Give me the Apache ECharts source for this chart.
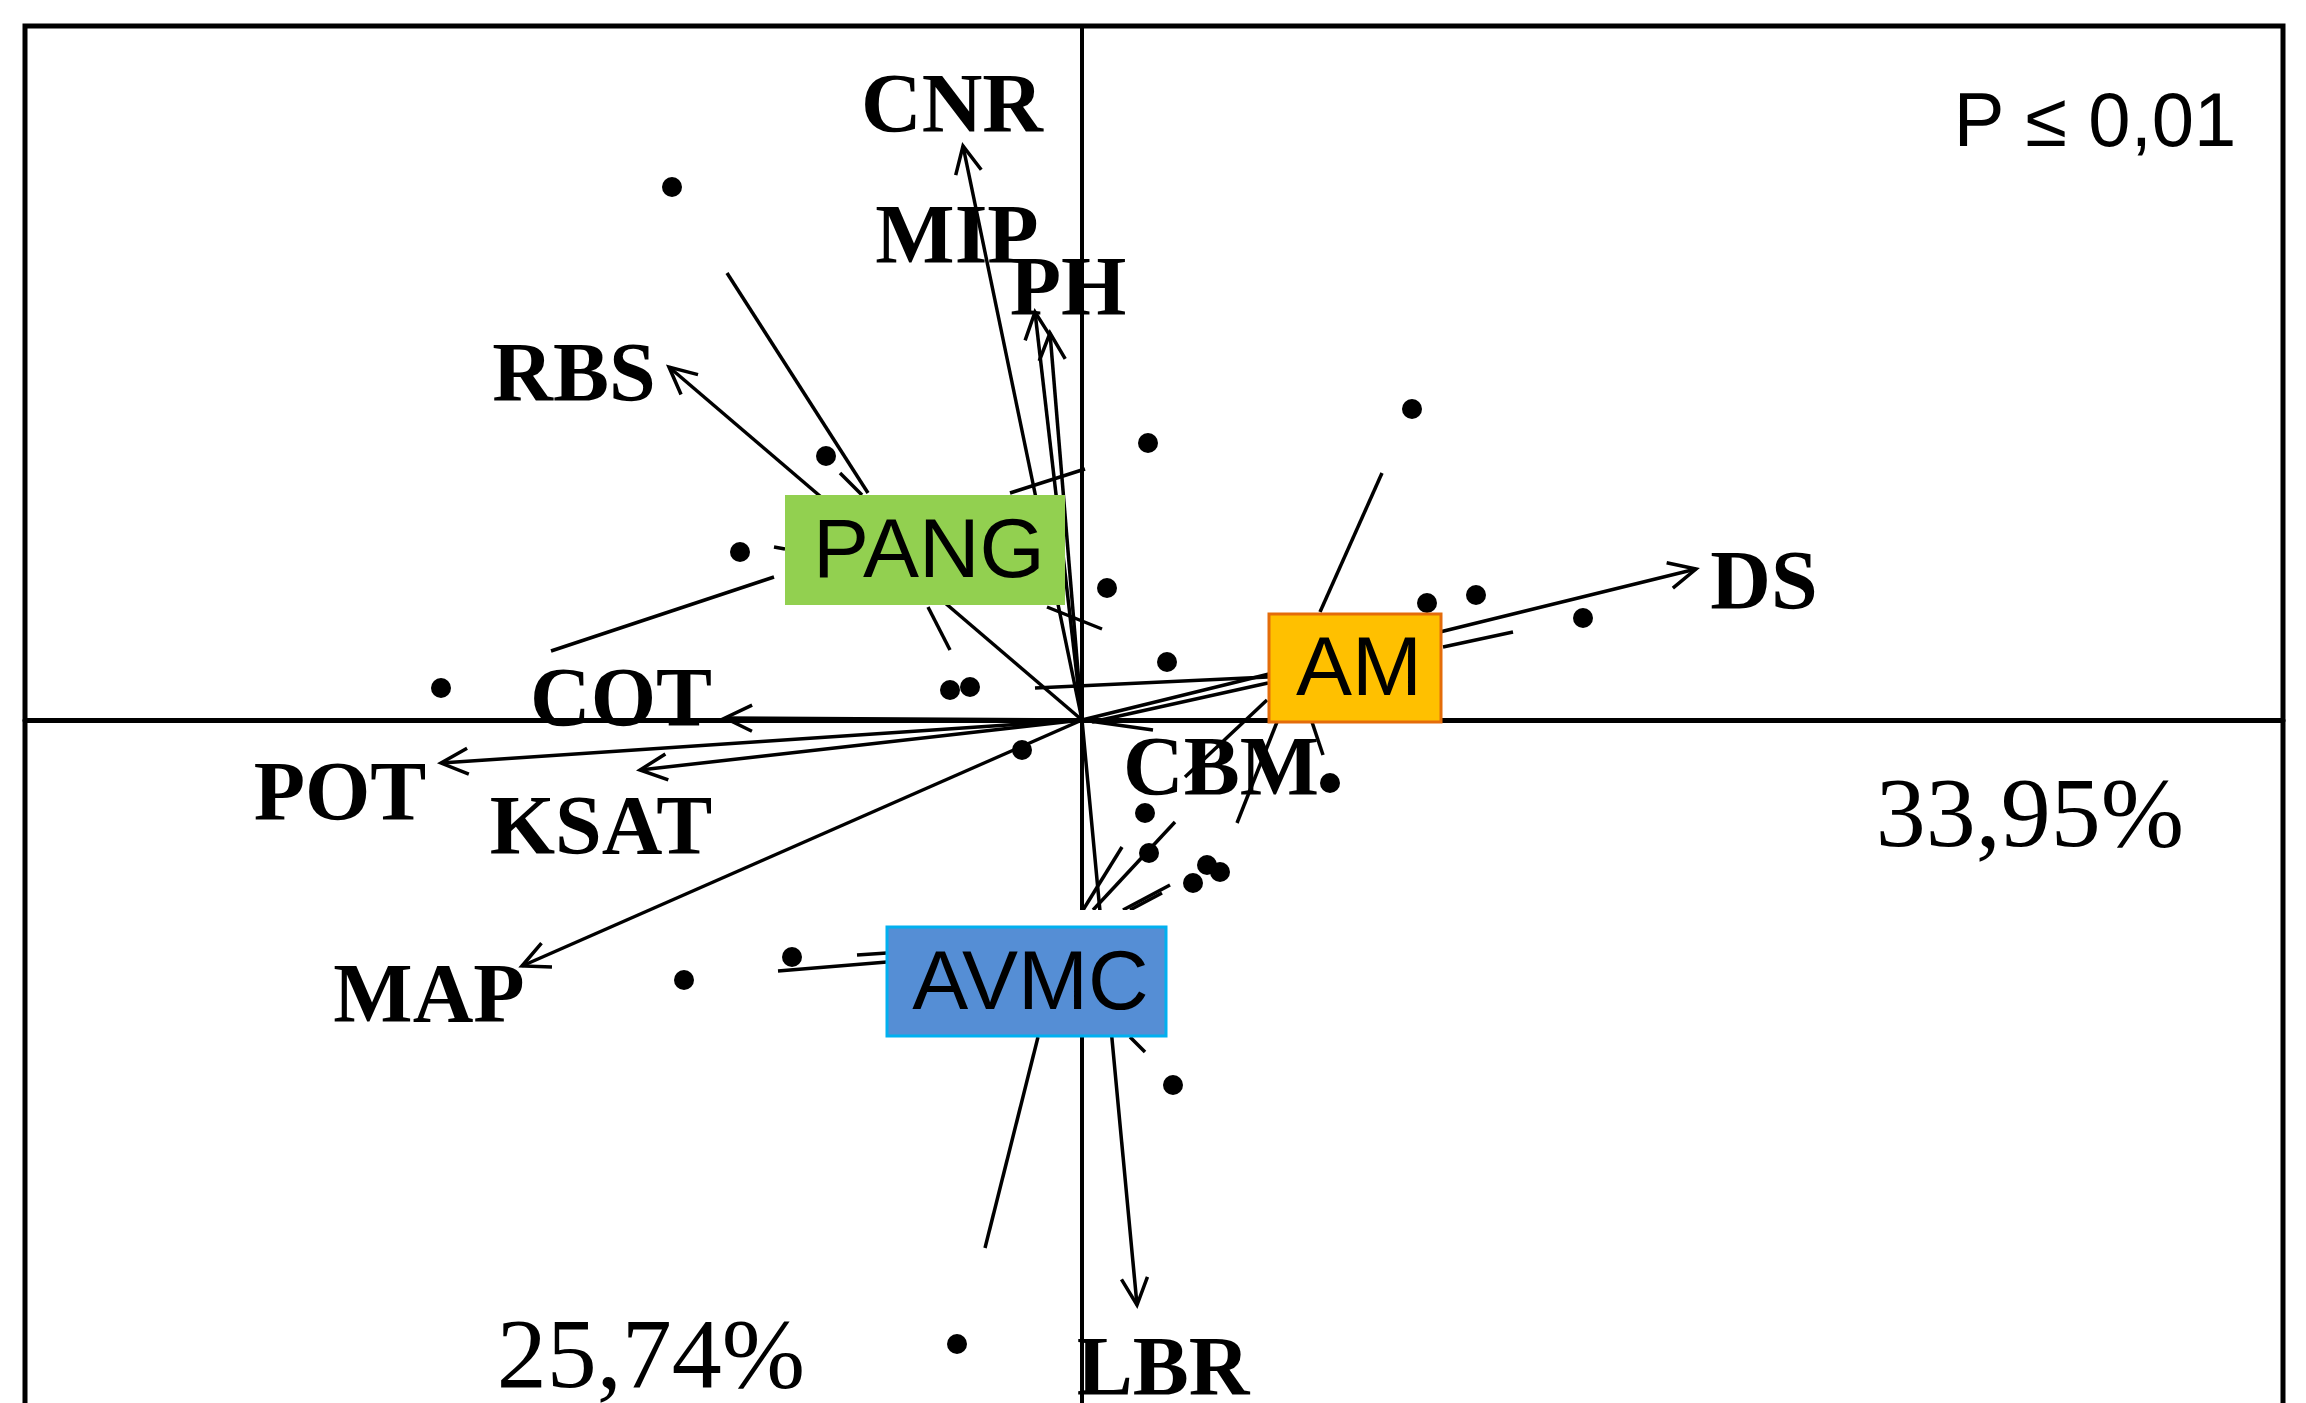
<!DOCTYPE html>
<html>
<head>
<meta charset="utf-8">
<script src="https://cdn.jsdelivr.net/npm/echarts@6/dist/echarts.min.js"></script>
<style>
  html, body { margin: 0; padding: 0; background: #fff; }
  #main { width: 2306px; height: 1403px; }
</style>
</head>
<body>
<div id="main"></div>
<script>
// inertia of the two axes and test result
const axisInertia = ['33,95%', '25,74%'];
const pValue = 'P \u2264 0,01';

// variables (arrows from origin)
const varNames = ['CNR', 'MIP', 'PH', 'RBS', 'DS', 'COT', 'POT', 'KSAT', 'MAP', 'CBM', 'LBR'];
const varX = [-1.19, -0.47, -0.32, -4.13, 6.14, -3.57, -6.41, -4.42, -5.60, 0.71, 0.55];
const varY = [5.74, 4.08, 3.87, 3.53, 1.51, 0.02, -0.43, -0.50, -2.46, -0.10, -5.85];
const varHead = [true, true, true, true, true, true, true, true, true, false, true];

// sites
const siteX = [-4.10, -2.56, -3.42, -6.41, -1.32, -1.12, -0.60, 0.66, 0.25, 3.30, 3.45, 3.94,
  5.01, 0.85, 2.48, 0.63, 0.67, 1.11, 1.25, 1.38, -2.90, -3.98, 0.91, -1.25];
const siteY = [5.33, 2.64, 1.68, 0.32, 0.30, 0.33, -0.30, 2.77, 1.32, 3.11, 1.17, 1.25,
  1.02, 0.58, -0.63, -0.93, -1.33, -1.63, -1.45, -1.52, -2.37, -2.60, -3.65, -6.24];

// groups (label position = class centre)
const groupNames = ['PANG', 'AM', 'AVMC'];
const groupX = [-1.57, 2.73, -0.555];
const groupY = [1.70, 0.52, -2.615];

// visible parts of the star lines, [x1, y1, x2, y2]
const starPANG = [[-2.14, 2.27, -3.55, 4.47], [-2.20, 2.25, -2.42, 2.47], [-2.97, 1.71, -3.08, 1.73],
  [-3.08, 1.43, -5.31, 0.69], [-1.54, 1.13, -1.32, 0.70], [-0.72, 2.27, 0.03, 2.51], [-0.35, 1.13, 0.20, 0.91]];
const starAM = [[2.38, 1.08, 3.00, 2.47], [3.61, 0.73, 4.31, 0.88], [1.86, 0.43, -0.47, 0.32],
  [1.86, 0.37, 0.10, -0.02], [1.85, 0.20, 1.03, -0.57], [1.95, -0.02, 1.55, -1.03], [2.30, -0.02, 2.41, -0.35]];
const starAVMC = [[-1.95, -2.42, -3.04, -2.51], [-1.95, -2.33, -2.25, -2.35], [-0.44, -3.17, -0.97, -5.28],
  [0.48, -3.17, 0.63, -3.32], [0.11, -1.90, 0.93, -1.02], [0.01, -1.90, 0.40, -1.27],
  [0.41, -1.90, 0.88, -1.65], [0.48, -1.90, 0.80, -1.73]];

// layout only: label offsets from arrow tips (px), box looks
const labelOffset = [[-11, -36], [-78, -71], [18, -40], [-95, 12], [68, 18], [-104, -14],
  [-101, 35], [-39, 62], [-93, 34], [68, 43], [26, 68]];
const boxStyle = [
  { w: 280, h: 110, fill: '#92D050', stroke: '#92D050', lw: 0, pad: 0 },
  { w: 172, h: 108, fill: '#FFC000', stroke: '#E46C0A', lw: 3, pad: 0 },
  { w: 279, h: 109, fill: '#558ED5', stroke: '#00B0F0', lw: 3, pad: 17 }
];

const chart = echarts.init(document.getElementById('main'));

const starData = [].concat(starPANG, starAM, starAVMC);

const option = {
  backgroundColor: '#fff',
  animation: false,
  grid: { left: 25, right: 23, top: 26, bottom: 0, show: false },
  xAxis: {
    type: 'value', min: -10.57, max: 12.01,
    axisLine: { show: true, onZero: true, lineStyle: { color: '#000', width: 5 } },
    axisTick: { show: false }, axisLabel: { show: false }, splitLine: { show: false }
  },
  yAxis: {
    type: 'value', min: -6.83, max: 6.94,
    axisLine: { show: true, onZero: true, lineStyle: { color: '#000', width: 4 } },
    axisTick: { show: false }, axisLabel: { show: false }, splitLine: { show: false }
  },
  graphic: [
    // plot frame, its bottom edge lies below the picture
    { type: 'rect', z: 1, silent: true, shape: { x: 25, y: 26, width: 2258, height: 1430 },
      style: { fill: null, stroke: '#000', lineWidth: 5 } },
    { type: 'text', x: 2095, y: 125, z: 10,
      style: { text: pValue, font: '76px "Liberation Sans Narrow", "Liberation Sans", sans-serif', fill: '#000', align: 'center', verticalAlign: 'middle' } },
    { type: 'text', x: 2030, y: 820, z: 10,
      style: { text: axisInertia[0], font: '100px "Liberation Serif", serif', fill: '#000', align: 'center', verticalAlign: 'middle' } },
    { type: 'text', x: 651, y: 1361, z: 10,
      style: { text: axisInertia[1], font: '100px "Liberation Serif", serif', fill: '#000', align: 'center', verticalAlign: 'middle' } }
  ],
  series: [
    {
      // star lines
      type: 'custom', z: 3,
      data: starData,
      encode: { x: [0, 2], y: [1, 3] },
      renderItem: function (params, api) {
        const a = api.coord([api.value(0), api.value(1)]);
        const b = api.coord([api.value(2), api.value(3)]);
        return { type: 'line', shape: { x1: a[0], y1: a[1], x2: b[0], y2: b[1] },
          style: { stroke: '#000', lineWidth: 3.5 } };
      }
    },
    {
      // variable arrows
      type: 'custom', z: 4,
      data: varX.map((x, i) => [x, varY[i], i]),
      encode: { x: 0, y: 1 },
      renderItem: function (params, api) {
        const i = api.value(2);
        const o = api.coord([0, 0]);
        const t = api.coord([api.value(0), api.value(1)]);
        const ang = Math.atan2(t[1] - o[1], t[0] - o[0]);
        const L = 30, h = 0.45;
        const children = [
          { type: 'line', shape: { x1: o[0], y1: o[1], x2: t[0], y2: t[1] },
            style: { stroke: '#000', lineWidth: 3.5 } }
        ];
        if (varHead[i]) {
          children.push({ type: 'polyline', shape: { points: [
            [t[0] - L * Math.cos(ang - h), t[1] - L * Math.sin(ang - h)], t,
            [t[0] - L * Math.cos(ang + h), t[1] - L * Math.sin(ang + h)]] },
            style: { stroke: '#000', lineWidth: 3.5, fill: null } });
        }
        children.push({ type: 'text', x: t[0] + labelOffset[i][0], y: t[1] + labelOffset[i][1],
          style: { text: varNames[i], font: 'bold 84px "Liberation Serif", serif', fill: '#000',
            align: 'center', verticalAlign: 'middle' } });
        return { type: 'group', children: children };
      }
    },
    {
      type: 'scatter', z: 5,
      symbolSize: 20,
      itemStyle: { color: '#000', opacity: 1 },
      data: siteX.map((x, i) => [x, siteY[i]])
    },
    {
      // group labels
      type: 'custom', z: 6,
      data: groupX.map((x, i) => [x, groupY[i], i]),
      encode: { x: 0, y: 1 },
      renderItem: function (params, api) {
        const i = api.value(2);
        const c = api.coord([api.value(0), api.value(1)]);
        const s = boxStyle[i];
        const children = [];
        if (s.pad) {
          children.push({ type: 'rect',
            shape: { x: c[0] - s.w / 2, y: c[1] - s.h / 2 - s.pad, width: s.w, height: s.pad },
            style: { fill: '#fff' } });
        }
        children.push(
          { type: 'rect', shape: { x: c[0] - s.w / 2, y: c[1] - s.h / 2, width: s.w, height: s.h },
            style: { fill: s.fill, stroke: s.lw ? s.stroke : null, lineWidth: s.lw } },
          { type: 'text', x: c[0] + 4, y: c[1] + 4,
            style: { text: groupNames[i], font: '84px "Liberation Sans", Arial, sans-serif', fill: '#000',
              align: 'center', verticalAlign: 'middle' } }
        );
        return { type: 'group', children: children };
      }
    }
  ]
};

chart.setOption(option);
</script>
</body>
</html>
